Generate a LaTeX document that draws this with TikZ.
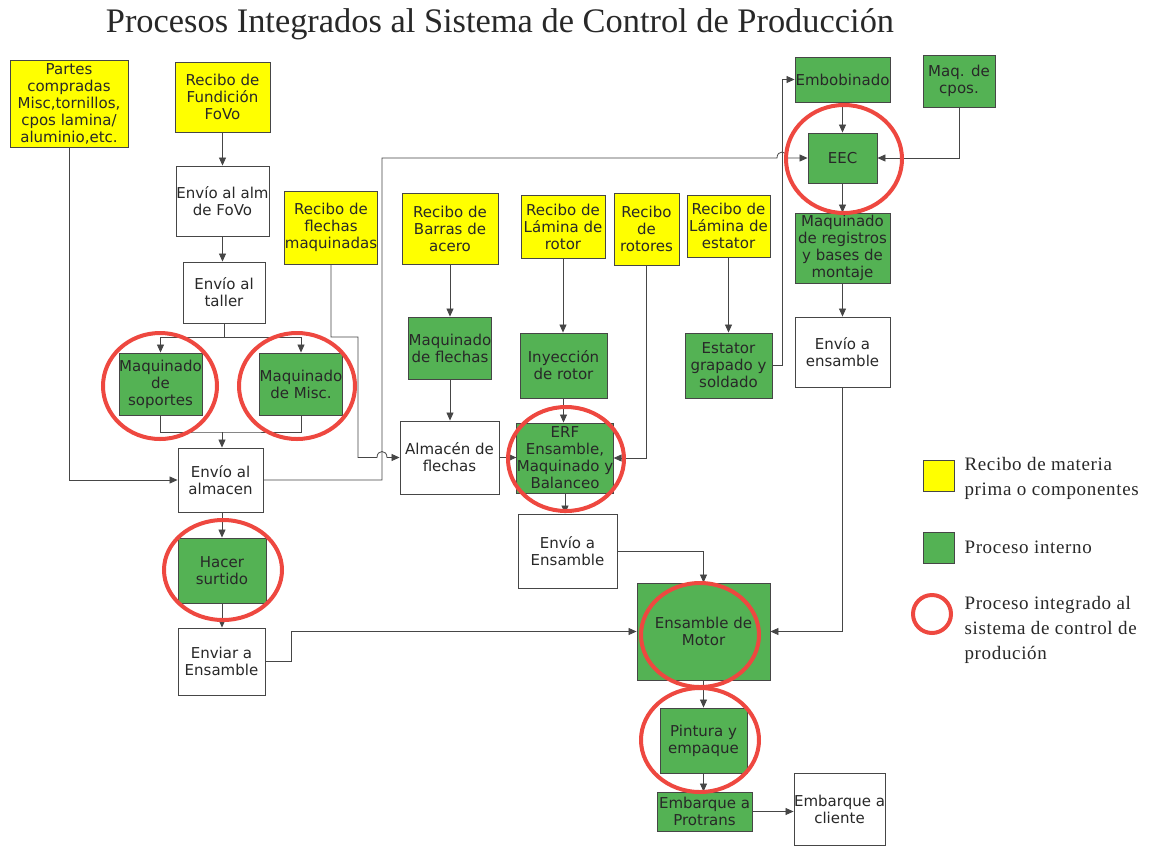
\documentclass[tikz,border=0pt]{standalone}
\usepackage{fontspec}
\setmainfont{DejaVu Sans}
\newfontfamily\serifface{Liberation Serif}
\newfontfamily\legendface{Liberation Serif}[LetterSpace=3.5]
\usetikzlibrary{arrows.meta}
\definecolor{recibo}{RGB}{255,255,0}
\definecolor{interno}{RGB}{84,178,84}
\definecolor{integr}{RGB}{238,72,64}
\definecolor{linea}{RGB}{70,70,70}
\definecolor{texto}{RGB}{40,40,40}

\begin{document}
\begin{tikzpicture}[x=1pt,y=-1pt,
  box/.style={draw=linea, line width=0.9pt, text=texto,
    font=\fontsize{15}{17}\selectfont, align=center, inner sep=0pt},
  ybox/.style={box, fill=recibo},
  gbox/.style={box, fill=interno},
  wbox/.style={box, fill=white},
  conn/.style={draw=linea, line width=0.8pt},
  arr/.style={conn, -{Triangle[length=8pt,width=7pt]}},
  ring/.style={draw=integr, line width=4pt},
  legtext/.style={text=texto, anchor=west, align=left,
    font=\legendface\fontsize{19}{25}\selectfont},
]
\fill[white] (0,0) rectangle (1151,847);
\useasboundingbox (0,0) rectangle (1151,847);

% title
\node[text=texto, font=\serifface\fontsize{34.4}{40}\selectfont] (titulo) at (500,24)
  {Procesos Integrados al Sistema de Control de Producción};

% left column
\node[ybox, minimum width=118pt, minimum height=87pt] (partes) at (69,103.5)
  {Partes\\compradas\\Misc,tornillos,\\cpos lamina/\\aluminio,etc.};
\node[ybox, minimum width=95pt, minimum height=70pt] (fundicion) at (222.5,97)
  {Recibo de\\Fundición\\FoVo};
\node[wbox, minimum width=93pt, minimum height=70pt] (envalm) at (222.5,201)
  {Envío al alm\\de FoVo};
\node[wbox, minimum width=82pt, minimum height=61pt] (taller) at (224,292.5)
  {Envío al\\taller};
\node[gbox, minimum width=83pt, minimum height=62pt] (soportes) at (160.5,384)
  {Maquinado\\de\\soportes};
\node[gbox, minimum width=82pt, minimum height=62pt] (misc) at (301,384)
  {Maquinado\\de Misc.};
\node[wbox, minimum width=85pt, minimum height=64pt] (almacen) at (220.5,480)
  {Envío al\\almacen};
\node[gbox, minimum width=88pt, minimum height=65pt] (surtido) at (222,570.5)
  {Hacer\\surtido};
\node[wbox, minimum width=87pt, minimum height=67pt] (enviar) at (221.5,661.5)
  {Enviar a\\Ensamble};

% middle receiving boxes
\node[ybox, minimum width=92pt, minimum height=73pt] (flechasrec) at (331,227.5)
  {Recibo de\\flechas\\maquinadas};
\node[ybox, minimum width=96pt, minimum height=71pt] (barras) at (450,228.5)
  {Recibo de\\Barras de\\acero};
\node[ybox, minimum width=84pt, minimum height=63pt] (laminarot) at (563,226.5)
  {Recibo de\\Lámina de\\rotor};
\node[ybox, minimum width=65pt, minimum height=72pt] (rotores) at (646.5,229)
  {Recibo\\de\\rotores};
\node[ybox, minimum width=83pt, minimum height=62pt] (laminaest) at (728.5,226)
  {Recibo de\\Lámina de\\estator};

% middle processes
\node[gbox, minimum width=82pt, minimum height=62pt] (maqflechas) at (450,348)
  {Maquinado\\de flechas};
\node[gbox, minimum width=87pt, minimum height=65pt] (inyeccion) at (563.5,365.5)
  {Inyección\\de rotor};
\node[gbox, minimum width=87pt, minimum height=65pt] (estator) at (728.5,365.5)
  {Estator\\grapado y\\soldado};
\node[wbox, minimum width=99pt, minimum height=73pt] (almflechas) at (449.5,457.5)
  {Almacén de\\flechas};
\node[gbox, minimum width=94pt, minimum height=70pt] (erf) at (565,458)
  {ERF\\Ensamble,\\Maquinado y\\Balanceo};
\node[wbox, minimum width=99pt, minimum height=74pt] (envens) at (567.5,551)
  {Envío a\\Ensamble};

% final assembly
\node[gbox, minimum width=133pt, minimum height=97pt] (motor) at (703.5,631.5)
  {Ensamble de\\Motor};
\node[gbox, minimum width=87pt, minimum height=65pt] (pintura) at (703.5,740.5)
  {Pintura y\\empaque};
\node[gbox, minimum width=95pt, minimum height=39pt] (protrans) at (704.5,811.5)
  {Embarque a\\Protrans};
\node[wbox, minimum width=91pt, minimum height=72pt] (cliente) at (839.5,809)
  {Embarque a\\cliente};

% right column
\node[gbox, minimum width=95pt, minimum height=45pt] (embob) at (842.5,79.5)
  {Embobinado};
\node[gbox, minimum width=72pt, minimum height=52pt] (maqcpos) at (959,81)
  {Maq. de\\cpos.};
\node[gbox, minimum width=69pt, minimum height=50pt] (eec) at (842.5,158)
  {EEC};
\node[gbox, minimum width=95pt, minimum height=70pt] (registros) at (842.5,248)
  {Maquinado\\de registros\\y bases de\\montaje};
\node[wbox, minimum width=95pt, minimum height=70pt] (envens2) at (842.5,352)
  {Envío a\\ensamble};

% connectors: left column
\draw[arr] (fundicion.south) -- (envalm.north);
\draw[arr] (envalm.south) -- (envalm.south |- taller.north);
\coordinate (tsplit) at (224,337);
\draw[conn] (taller.south) -- (tsplit);
\draw[arr] (tsplit) -| (soportes.north);
\draw[arr] (tsplit) -| (misc.north);
\coordinate (tjoin) at (222,432);
\draw[conn] (soportes.south) |- (tjoin) -| (misc.south);
\draw[arr] (tjoin) -- (tjoin |- almacen.north);
\draw[arr] (partes.south) |- (almacen.west);
\draw[arr] (almacen.south -| surtido.north) -- (surtido.north);
\draw[arr] (surtido.south) -- (surtido.south |- enviar.north);

% bus from the warehouse up to EEC
\coordinate (busb) at (382,480);
\coordinate (bust) at (382,158);
\coordinate (jmpA) at (777,158);
\coordinate (jmpB) at (787,158);
\draw[arr] (almacen.east) -- (busb) -- (bust) -- (jmpA)
  .. controls (777,150) and (787,150) .. (jmpB) -- (eec.west);

% machined shafts to the shaft store
\coordinate (fl1) at (331,337);
\coordinate (fl2) at (358,337);
\coordinate (fl3) at (358,457.5);
\coordinate (jmpC) at (377,457.5);
\coordinate (jmpD) at (387,457.5);
\draw[arr] (flechasrec.south) -- (fl1) -- (fl2) -- (fl3) -- (jmpC)
  .. controls (377,449.5) and (387,449.5) .. (jmpD) -- (almflechas.west);

% middle connectors
\draw[arr] (barras.south) -- (maqflechas.north);
\draw[arr] (maqflechas.south) -- (maqflechas.south |- almflechas.north);
\draw[arr] (almflechas.east) -- (almflechas.east -| erf.west);
\draw[arr] (laminarot.south) -- (laminarot.south |- inyeccion.north);
\draw[arr] (inyeccion.south) -- (inyeccion.south |- erf.north);
\draw[arr] (rotores.south) |- (erf.east);
\draw[arr] (laminaest.south) -- (estator.north);
\coordinate (est1) at (782,365.5);
\draw[arr] (estator.east) -- (est1) |- (embob.west);
\draw[arr] (erf.south) -- (erf.south |- envens.north);
\draw[arr] (envens.east) -| (motor.north);

% into final assembly
\coordinate (env1) at (291,661.5);
\coordinate (env2) at (291,631.5);
\draw[arr] (enviar.east) -- (env1) -- (env2) -- (motor.west);
\draw[arr] (envens2.south) |- (motor.east);

% right column connectors
\draw[arr] (embob.south) -- (eec.north);
\draw[arr] (maqcpos.south) |- (eec.east);
\draw[arr] (eec.south) -- (registros.north);
\draw[arr] (registros.south) -- (envens2.north);

% shipping
\draw[arr] (motor.south) -- (pintura.north);
\draw[arr] (pintura.south) -- (pintura.south |- protrans.north);
\draw[arr] (protrans.east) -- (protrans.east -| cliente.west);

% processes tied to the production control system
\draw[ring] (160,386) ellipse [x radius=57pt, y radius=53pt];
\draw[ring] (297,386) ellipse [x radius=58pt, y radius=53pt];
\draw[ring] (223,570) ellipse [x radius=59pt, y radius=50pt];
\draw[ring] (844,159) ellipse [x radius=58pt, y radius=54pt];
\draw[ring] (566,459) ellipse [x radius=58pt, y radius=52pt];
\draw[ring] (700,635) ellipse [x radius=59pt, y radius=52pt];
\draw[ring] (700,740) ellipse [x radius=59pt, y radius=52pt];

% legend
\node[ybox, minimum width=31pt, minimum height=31pt] (lgy) at (938.5,475.5) {};
\node[legtext] (lgyt) at (961,478) {Recibo de materia\\prima o componentes};
\node[gbox, minimum width=31pt, minimum height=31pt] (lgg) at (938.5,547.5) {};
\node[legtext] (lggt) at (961,547) {Proceso interno};
\node[ring, circle, minimum size=38pt, inner sep=0pt] (lgr) at (932,614) {};
\node[legtext] (lgrt) at (961,630) {Proceso integrado al\\sistema de control de\\produción};
\end{tikzpicture}
\end{document}
